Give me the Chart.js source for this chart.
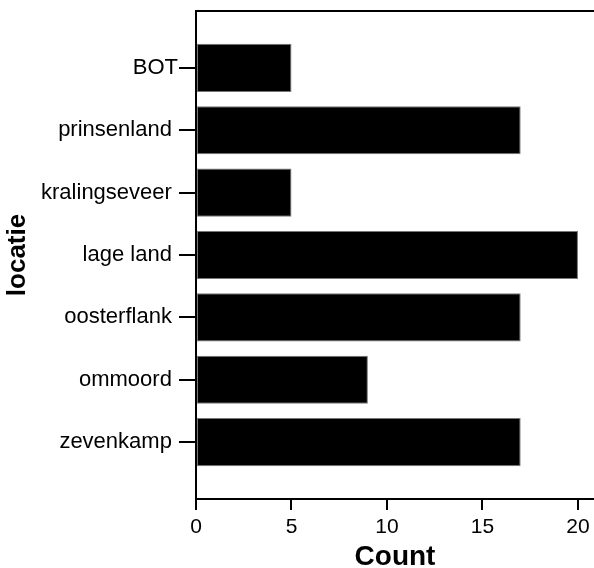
<!DOCTYPE html>
<html>
<head>
<meta charset="utf-8">
<script src="https://cdn.jsdelivr.net/npm/chart.js@4.4.1/dist/chart.umd.min.js"></script>
<style>
  html, body { margin: 0; padding: 0; background: #fff; }
  #wrap { width: 594px; height: 568px; }
</style>
</head>
<body>
<div id="wrap"><canvas id="myChart"></canvas></div>
<script>
// data (labels keep the trailing space seen in the source)
const locaties = ["BOT", "prinsenland ", "kralingseveer ", "lage land ", "oosterflank ", "ommoord ", "zevenkamp "];
const counts = [5, 17, 5, 20, 17, 9, 17];
const xTicks = [0, 5, 10, 15, 20];

const FONT = "'Liberation Sans', Arial, sans-serif";

// bars sit on a numeric index axis so the padding above/below can match
const points = locaties.map((name, i) => ({ x: counts[i], y: i }));

// top border line across the plot
const topLine = {
  id: "topLine",
  afterDraw(chart) {
    const ctx = chart.ctx;
    const a = chart.chartArea;
    ctx.save();
    ctx.strokeStyle = "#000";
    ctx.lineWidth = 2;
    ctx.beginPath();
    ctx.moveTo(a.left - 1, a.top);
    ctx.lineTo(a.right, a.top);
    ctx.stroke();
    ctx.restore();
  }
};

const chart = new Chart(document.getElementById("myChart"), {
  type: "bar",
  data: {
    datasets: [{
      label: "Count",
      data: points,
      backgroundColor: "#000",
      borderColor: "#777",
      borderWidth: 1,
      borderSkipped: false,
      categoryPercentage: 1,
      barPercentage: 0.77
    }]
  },
  plugins: [topLine],
  options: {
    indexAxis: "y",
    responsive: true,
    maintainAspectRatio: false,
    animation: false,
    layout: { padding: { top: 11, right: 0, left: 0, bottom: 0 } },
    plugins: {
      legend: { display: false },
      tooltip: { enabled: false }
    },
    scales: {
      x: {
        type: "linear",
        min: 0,
        max: 20.84,
        afterBuildTicks: s => { s.ticks = xTicks.map(v => ({ value: v })); },
        afterFit: s => { s.height = 69; s.paddingRight = 0; },
        border: { display: true, color: "#000", width: 2 },
        grid: { drawOnChartArea: false, color: "#000", lineWidth: 2, tickLength: 11 },
        ticks: { color: "#000", font: { family: FONT, size: 21 }, padding: 5, maxRotation: 0 },
        title: {
          display: true, text: "Count", color: "#000",
          font: { family: FONT, size: 28, weight: "bold", lineHeight: 0.8 },
          padding: { top: 0, bottom: 0 }
        }
      },
      y: {
        type: "linear",
        reverse: true,
        offset: false,
        min: -0.912,
        max: locaties.length - 1 + 0.912,
        afterBuildTicks: s => { s.ticks = locaties.map((n, i) => ({ value: i })); },
        afterFit: s => { s.width = 196; s.paddingTop = 0; s.paddingBottom = 0; },
        border: { display: true, color: "#000", width: 2 },
        grid: { drawOnChartArea: false, offset: false, color: "#000", lineWidth: 2, tickLength: 17 },
        ticks: {
          color: "#000", font: { family: FONT, size: 22 }, padding: 1,
          callback: v => locaties[v]
        },
        title: {
          display: true, text: "locatie", color: "#000",
          font: { family: FONT, size: 26, weight: "bold", lineHeight: 0.8 },
          padding: { top: 7, bottom: 0 }
        }
      }
    }
  }
});
</script>
</body>
</html>
